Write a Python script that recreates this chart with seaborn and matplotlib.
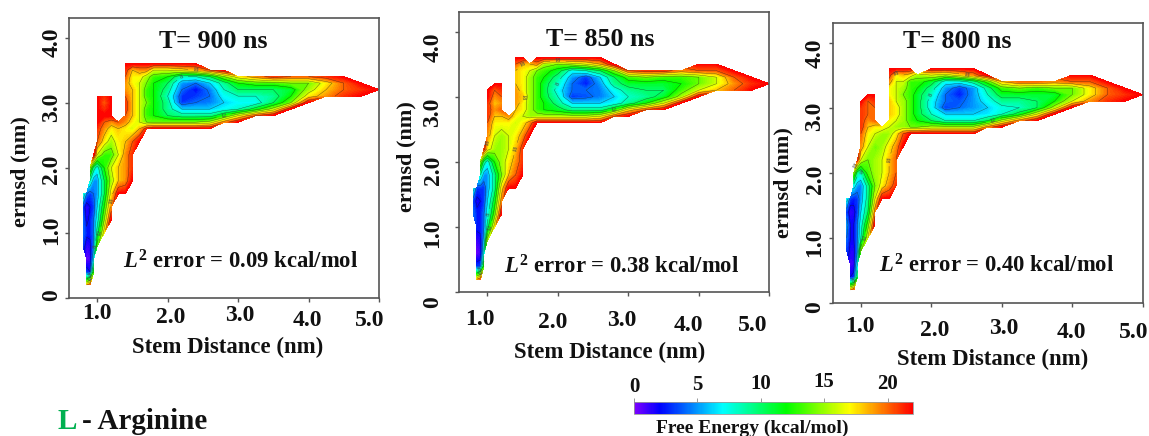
import numpy as np
import matplotlib
matplotlib.use("Agg")
import matplotlib.pyplot as plt
from matplotlib.cm import ScalarMappable
from matplotlib.colors import LinearSegmentedColormap, Normalize
from matplotlib.transforms import Affine2D
import seaborn as sns

W, H = 1149, 436

stem_distance = [0.80, 0.85, 0.90, 0.95, 1.0, 1.1, 1.2, 1.3, 1.4, 1.5, 1.6, 1.7, 1.8, 2.0, 2.2, 2.4,
                 2.6, 2.8, 3.0, 3.25, 3.5, 3.75, 4.0, 4.25, 4.5, 4.75, 5.0]
ermsd = [3.6, 3.5, 3.4, 3.3, 3.2, 3.1, 3.0, 2.9, 2.8, 2.7, 2.6, 2.4, 2.2, 2.0, 1.8, 1.6, 1.4, 1.2,
         1.0, 0.8, 0.6, 0.4, 0.2]

FE_900 = """
. . . . . . . . 22 22 22 22 22 22 22 22
. . . . . . . . 21 18 19 19 16 16 17 18 20 22
. . . . . . . . 20 17 17 15 13 12 8 8 10 14 17 19 21 20 20 21 22
. . . . . . . . 19 17 16 14 12 10 5 4 6 9 12 13 13 14 14 17 20 22
. . . . . . . . 19 18 16 13 12 9 4 2 4.5 8 10 10 10 11 15 18 20 21 22
. . . . 22 21 22 . 20 18 16 13 12 8 3 3 4 7 8 8 9 12 17 19 21 22
. . . . 22 20 22 . 21 18 16 14 12 9 3 4 4.5 6 7 7 10 14 22
. . . . 22 21 22 . 21 18 16 13 12 9 6 6 6 7 8 11 15 22
. . . . 22 22 22 . 20 18 16 13 12 10 9 9 9 12 16 20 22
. . . . 22 20 19 20 19 17 16 14 14 14 14 14 15 19 22
. . . . 21 19 17 18 17 16 18 21 22 22 22 22 22
. . . . 20 17 15 17 18 20 22
. . . 22 16 13 13 16 19 21
. . 14 9 7 12 16 18 19 21
. . 8 5 5 10 15 18 19 22
8 4 3 4 5 10 17 22 22
3 1 2 3 6 12 19
4 1.5 2.5 4 7 14 22
4 2.5 2.5 4 9 17
3 1 1.5 4 13
. .3 .8 6
. 3 2 12
. 18 20
"""

FE_850 = """
. . . . . . . . 22 22 . 22 22 22 22 22 22
. . . . . . . . 20 18 18 19 15 14 15 16 18 22 . . . . 22 22
. . . . . . . . 18 17 16 14 13 11 7 8 10 14 20 21 21 19 20 20 22
. . . . . . . . 18 17 15 13 12 9 5 3 6 10 13 14 13 13 14 16 20 22
. . . . . 22 22 . 18 17 15 13 11 8 4 2.5 5 9 11 11 11 12 14 16 19 21 22
. . . . 22 20 21 . 19 17 15 13 11 7 4 4 4.5 7 9 10 10 13 16 18 20 22
. . . . 22 19 20 . 19 18 15 13 11 8 3 3.5 4.5 6 8 9 11 15 22
. . . . 21 18 19 . 19 17 15 13 12 9 6 6 6 7 9 12 16 22
. . . . 21 19 20 . 18 17 15 13 12 11 9 9 9 12 17 20 22
. . . . 21 18 18 19 17 16 15 15 15 15 15 15 16 20 22
. . . . 20 17 17 17 16 17 19 22 22 22 22 22 22
. . . . 19 16 15 16 17 19 22
. . . 21 17 15 15 16 18 21
. . 14 9 7 12 15 17 19 21
. . 8 5 5 9 14 18 20 22
7 3 3 3 5 9 17 22 22
3 1.5 2 3 6 11 19
4 2.5 2.5 4 7 13 22
. 2.5 2.5 4 9 17
. 1 1.5 5 15
. .3 .8 7
. 3 3 12
. 18 20
"""

FE_800 = """
. . . . . . . . 22 22 22 22 . 22 22 22 22
. . . . . . . . 21 17 18 17 15 16 15 17 19 22 . . . . 22 22
. . . . . . . . 19 16 16 13 13 11 7 7 9 13 18 20 20 19 20 20 22
. . . . . . . . 17 16 15 13 12 9 5 3 5 9 13 14 13 14 14 17 20 22
. . . . . 22 22 . 17 16 14 13 11 8 4 2.5 5 8 11 11 11 11 14 17 20 21 22
. . . . 22 20 21 . 18 16 15 13 11 7 4 3.5 5 7 9 9 10 12 16 19 21 22
. . . . 21 20 20 . 18 17 15 13 11 7 3 4 5 6 7.5 8 10 15 22
. . . . 21 20 20 . 18 17 15 13 11 8 6 6 6 6.5 8 11 16 22
. . . . 21 19 20 . 17 16 15 13 12 10 8 8 8 10 15 19 22
. . . . 21 18 17 17 16 15 15 14 14 15 15 15 15 19 22
. . . . 20 17 16 15 15 17 20 22 22 22 22 22 22
. . . . 19 16 14 15 17 19 22
. . . 21 16 14 15 16 18 20
. . 14 9 8 13 15 16 18 20
. . 7 5 4.5 9 14 17 19 21
7 3 2.5 3 5 9 16 22 22
3 1 1.5 3 6 10 19
5 2 2 4 7 13 22
4 2 2 4 8 16
3 1.5 1.5 4 14
. .8 1.2 6
. 2 2.5 10
. 18 20
"""

titles = ["T= 900 ns", "T= 850 ns", "T= 800 ns"]
errors = ["0.09", "0.38", "0.40"]
x_ticks = [1.0, 2.0, 3.0, 4.0, 5.0]
x_tick_labels = ["1.0", "2.0", "3.0", "4.0", "5.0"]
y_ticks = [0, 1.0, 2.0, 3.0, 4.0]
y_tick_labels = ["0", "1.0", "2.0", "3.0", "4.0"]
cbar_ticks = [0, 5, 10, 15, 20]


def parse(table):
    rows = []
    for line in table.strip().splitlines():
        vals = [np.nan if t == "." else float(t) for t in line.split()]
        rows.append(vals + [np.nan] * (len(stem_distance) - len(vals)))
    return np.array(rows)


sns.set_theme(style="ticks")
plt.rcParams["font.family"] = ["Liberation Serif"]
plt.rcParams["font.weight"] = "bold"
plt.rcParams["mathtext.fontset"] = "custom"
plt.rcParams["mathtext.rm"] = "Liberation Serif:bold"
plt.rcParams["mathtext.bf"] = "Liberation Serif:bold"
plt.rcParams["mathtext.it"] = "Liberation Serif:italic:bold"

cmap = LinearSegmentedColormap.from_list(
    "fe",
    [(0, "#7f00ff"), (2 / 22, "#0000ff"), (7 / 22, "#00ffff"), (12 / 22, "#00ff00"), (17 / 22, "#ffff00"), (1, "#ff0000")],
)
norm = Normalize(0, 22)

fig = plt.figure(figsize=(W / 100, H / 100), dpi=100, facecolor="white")


def axes_px(l, t, r, b):
    return fig.add_axes([l / W, 1 - b / H, (r - l) / W, (b - t) / H])


TEXT = "#111111"
PAD_PX = 3 * 100 / 72

panels = [
    dict(box=(69, 18, 379, 298), data=FE_900, title=(213, 41), err=(241, 262), xl=(228, 347), yl=(20, 172),
         xdx=[0, 3, 2, -1, -9], xbelow=[15, 19, 17, 22, 22], ydy=[-3, -3, 2, 5, 5], yx=52),
    dict(box=(459.3, 12, 769.3, 292.3), data=FE_850, title=(600, 40), err=(622, 267), xl=(610, 352), yl=(406, 157),
         xdx=[-8, -5, -7, -10, -17], xbelow=[27, 30, 28, 33, 33], ydy=[10, 6, 8, 16, 16], yx=433),
    dict(box=(832.7, 23, 1142.7, 303), data=FE_800, title=(957, 41), err=(997, 266), xl=(993, 359), yl=(783, 183),
         xdx=[-1, 3, 2, -1, -9], xbelow=[24, 27, 25, 30, 30], ydy=[4, 4, 7, 9, 11], yx=815),
]

for p, title, err in zip(panels, titles, errors):
    l, t, r, b = p["box"]
    ax = axes_px(l, t, r, b)
    Z = parse(p["data"])
    ax.contourf(stem_distance, ermsd, Z, levels=np.linspace(0, 22, 89), cmap=cmap, norm=norm, antialiased=False)
    cs = ax.contour(stem_distance, ermsd, Z, levels=np.arange(2, 22, 2), colors="#1a1a1a", linewidths=0.3, alpha=0.7)
    ax.clabel(cs, levels=[8, 12, 18], fontsize=4.5, fmt="%d", inline=True, colors="#444444")
    ax.set_xlim(0.6, 5.0)
    ax.set_ylim(0, 4.3)
    ax.set_xticks(x_ticks)
    ax.set_xticklabels(x_tick_labels)
    ax.set_yticks(y_ticks)
    ax.set_yticklabels(y_tick_labels, rotation=90, ha="center", va="center")
    ax.tick_params(length=3, width=1, pad=0, color="#555555", labelsize=17, labelcolor=TEXT)
    for s in ax.spines.values():
        s.set_color("#555555")
        s.set_linewidth(1.2)
    for lab, dx, below in zip(ax.get_xticklabels(), p["xdx"], p["xbelow"]):
        lab.set_va("center")
        lab.set_transform(lab.get_transform() + Affine2D().translate(dx, -(below - PAD_PX)))
    for lab, dy in zip(ax.get_yticklabels(), p["ydy"]):
        lab.set_transform(lab.get_transform() + Affine2D().translate(-((l - p["yx"]) - PAD_PX), -dy))

    def fx(px):
        return (px - l) / (r - l)

    def fy(py):
        return (b - py) / (b - t)

    ax.set_xlabel("Stem Distance (nm)", fontsize=16.4, fontweight="bold", color=TEXT, va="center")
    ax.xaxis.set_label_coords(fx(p["xl"][0]), fy(p["xl"][1]))
    ax.set_ylabel("ermsd (nm)", fontsize=16, fontweight="bold", color=TEXT, va="center")
    ax.yaxis.set_label_coords(fx(p["yl"][0]), fy(p["yl"][1]))
    ax.text(fx(p["title"][0]), fy(p["title"][1]), title, transform=ax.transAxes, ha="center", va="center",
            fontsize=18.7, fontweight="bold", color=TEXT)
    ax.text(fx(p["err"][0]), fy(p["err"][1]), f"$L^{{2}}$ error = {err} kcal/mol", transform=ax.transAxes,
            ha="center", va="center", fontsize=16.3, fontweight="bold", color=TEXT)

cax = axes_px(634, 402.3, 913, 414.3)
cb = fig.colorbar(ScalarMappable(norm=norm, cmap=cmap), cax=cax, orientation="horizontal", ticks=cbar_ticks)
cax.xaxis.set_ticks_position("top")
cax.set_xticklabels([str(v) for v in cbar_ticks])
cax.tick_params(length=3, width=0.6, pad=0, color="#888888", labelsize=15, labelcolor=TEXT)
cb.outline.set_edgecolor("#999999")
cb.outline.set_linewidth(0.6)
for lab, y_c in zip(cax.get_xticklabels(), [387, 385, 384, 382, 384]):
    lab.set_va("center")
    lab.set_transform(lab.get_transform() + Affine2D().translate(0, (402.3 - y_c) - PAD_PX))

fig.text(752 / W, 1 - 428 / H, "Free Energy (kcal/mol)", ha="center", va="center", fontsize=14,
         fontweight="bold", color=TEXT)
fig.text(57 / W, 1 - 421 / H, "L", ha="left", va="center", fontsize=21, fontweight="bold", color="#00b050")
fig.text(82 / W, 1 - 421 / H, "- Arginine", ha="left", va="center", fontsize=21, fontweight="bold", color=TEXT)

fig.savefig("out.png", dpi=100, facecolor="white")
